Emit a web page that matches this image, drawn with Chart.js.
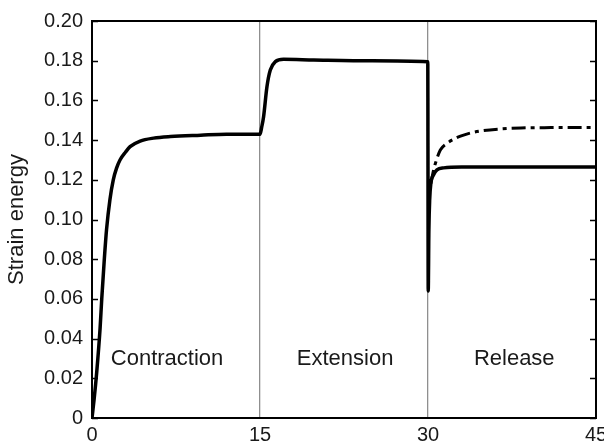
<!DOCTYPE html>
<html>
<head>
<meta charset="utf-8">
<script src="https://cdn.jsdelivr.net/npm/chart.js@4.4.0/dist/chart.umd.min.js"></script>
<style>
    html, body { margin: 0; padding: 0; background: #fff; }
</style>
</head>
<body>
<canvas id="strainChart" width="604" height="443"></canvas>
<script>
// Valores
const xTicks = [0, 15, 30, 45];
const yTicks = [0, 0.02, 0.04, 0.06, 0.08, 0.10, 0.12, 0.14, 0.16, 0.18, 0.20];
const yTickLabels = ['0', '0.02', '0.04', '0.06', '0.08', '0.10', '0.12', '0.14', '0.16', '0.18', '0.20'];
const phaseNames = ['Contraction', 'Extension', 'Release'];

// curva contínua (contração -> extensão -> liberação)
const solidX = [0, 0.2, 0.42, 0.72, 0.87, 1.1, 1.3, 1.6, 1.9, 2.2, 2.5, 3.0, 3.4, 4.3, 5.5, 7.0, 9.7, 12, 15,
    15.15, 15.32, 15.62, 15.92, 16.37, 17.1, 19.8, 25, 29.98,
    30.02, 30.08, 30.15, 30.25, 30.5, 30.8, 31.4, 33, 45];
const solidY = [0, 0.010, 0.023, 0.045, 0.060, 0.080, 0.095, 0.110, 0.120, 0.126, 0.130, 0.134, 0.1367, 0.1395, 0.141, 0.1418, 0.1425, 0.143, 0.143,
    0.1465, 0.1518, 0.1669, 0.1753, 0.1795, 0.1807, 0.1804, 0.1800, 0.1795,
    0.064, 0.095, 0.110, 0.118, 0.1225, 0.125, 0.126, 0.1264, 0.1264];

// curva tracejada (liberação)
const dashX = [30.25, 30.5, 30.7, 31.1, 31.7, 32.3, 32.9, 33.8, 34.7, 36.5, 38.3, 41, 45];
const dashY = [0.118, 0.125, 0.129, 0.135, 0.1384, 0.1405, 0.142, 0.1436, 0.1446, 0.1456, 0.1461, 0.1463, 0.1464];

const FONT = "'Liberation Sans', Arial, sans-serif";
const TEXT = '#1a1a1a';
Chart.defaults.font.family = FONT;

function toPoints(xs, ys) {
    return xs.map((x, i) => ({ x: x, y: ys[i] }));
}

// moldura, ticks internos e nomes das fases
const framePlugin = {
    id: 'frame',
    beforeDatasetsDraw(chart) {
        const { ctx, chartArea: a, scales } = chart;
        ctx.save();
        ctx.strokeStyle = '#000';
        ctx.lineWidth = 1.6;
        yTicks.forEach(v => {
            const py = Math.round(scales.y.getPixelForValue(v)) + 0.5;
            ctx.beginPath();
            ctx.moveTo(a.left, py);
            ctx.lineTo(a.left + 6, py);
            ctx.moveTo(a.right - 6, py);
            ctx.lineTo(a.right, py);
            ctx.stroke();
        });
        ctx.lineWidth = 2;
        ctx.strokeRect(a.left, a.top, a.right - a.left, a.bottom - a.top);
        ctx.restore();
    },
    afterDatasetsDraw(chart) {
        const { ctx, scales } = chart;
        const labelX = [6.7, 22.6, 37.7];
        ctx.save();
        ctx.fillStyle = TEXT;
        ctx.font = '22px ' + FONT;
        ctx.textAlign = 'center';
        ctx.textBaseline = 'middle';
        phaseNames.forEach((name, i) => {
            ctx.fillText(name, scales.x.getPixelForValue(labelX[i]), scales.y.getPixelForValue(0.030));
        });
        ctx.restore();
    }
};

const ctx = document.querySelector('#strainChart').getContext('2d');

const strainChart = new Chart(ctx, {
    type: 'line',
    data: {
        datasets: [
            {
                data: toPoints(solidX, solidY),
                borderColor: '#000',
                borderWidth: 3.5,
                pointRadius: 0,
                cubicInterpolationMode: 'monotone',
                fill: false,
            },
            {
                data: toPoints(dashX, dashY),
                borderColor: '#000',
                borderWidth: 3,
                borderDash: [14, 5, 4, 5],
                pointRadius: 0,
                cubicInterpolationMode: 'monotone',
                fill: false,
            },
        ],
    },
    options: {
        responsive: false,
        animation: false,
        layout: { padding: { left: 0, right: 8, top: 21, bottom: 0 } },
        plugins: {
            legend: { display: false },
            tooltip: { enabled: false },
        },
        scales: {
            x: {
                type: 'linear',
                min: 0,
                max: 45,
                afterBuildTicks: s => { s.ticks = xTicks.map(v => ({ value: v })); },
                afterFit: s => { s.height = 25; s.paddingLeft = 0; s.paddingRight = 0; },
                ticks: { font: { size: 20 }, color: TEXT, padding: 5, maxRotation: 0, autoSkip: false },
                grid: {
                    color: c => (c.tick && (c.tick.value === 15 || c.tick.value === 30)) ? '#8f8f8f' : 'rgba(0,0,0,0)',
                    lineWidth: 1.3,
                    drawTicks: false,
                },
                border: { display: false },
            },
            y: {
                type: 'linear',
                min: 0,
                max: 0.2,
                afterBuildTicks: s => { s.ticks = yTicks.map(v => ({ value: v })); },
                afterFit: s => { s.width = 92; },
                ticks: {
                    font: { size: 20 },
                    color: TEXT,
                    padding: 9,
                    callback: (v, i) => yTickLabels[i],
                },
                grid: { display: false, drawTicks: false },
                border: { display: false },
                title: {
                    display: true,
                    text: 'Strain energy',
                    font: { size: 22 },
                    color: TEXT,
                    padding: { top: 4, bottom: 0 },
                },
            },
        },
    },
    plugins: [framePlugin],
});
</script>
</body>
</html>
